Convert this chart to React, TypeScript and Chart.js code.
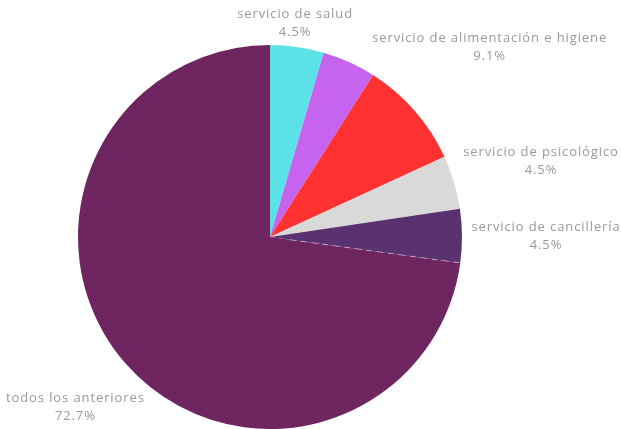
import React, { useEffect, useRef } from "react";
import { Chart, registerables } from "chart.js";

Chart.register(...registerables);

const categories = [
  "servicio de salud",
  "otros servicios",
  "servicio de alimentación e higiene",
  "servicio de psicológico",
  "servicio de cancillería",
  "todos los anteriores",
];
const percentages = [4.5, 4.5, 9.1, 4.5, 4.5, 72.7];
const sliceColors = ["#5ce1e6", "#c664ef", "#ff3131", "#d9d9d9", "#5a3270", "#6e2560"];
const hiddenLabels = [1];

// label centre offsets from the slice's outer mid point (layout only)
const labelOffsets: [number, number][] = [
  [-2, -24],
  [0, 0],
  [75, -63],
  [87, -21],
  [84, 1],
  [-50, 44],
];

const outsideLabels = {
  id: "outsideLabels",
  afterDatasetsDraw(chart: any) {
    const ctx = chart.ctx as CanvasRenderingContext2D;
    const meta = chart.getDatasetMeta(0);
    ctx.save();
    // dashed separator on the large slice's start edge
    const big: any = meta.data[meta.data.length - 1];
    if (big) {
      const p = big.getProps(["x", "y", "startAngle", "outerRadius"], true);
      ctx.strokeStyle = "rgba(255,255,255,0.45)";
      ctx.lineWidth = 1;
      ctx.setLineDash([6, 5]);
      ctx.beginPath();
      ctx.moveTo(p.x + Math.cos(p.startAngle) * 20, p.y + Math.sin(p.startAngle) * 20);
      ctx.lineTo(p.x + Math.cos(p.startAngle) * p.outerRadius, p.y + Math.sin(p.startAngle) * p.outerRadius);
      ctx.stroke();
      ctx.setLineDash([]);
    }
    ctx.font = '13px "Open Sans", sans-serif';
    (ctx as any).letterSpacing = "0.9px";
    ctx.fillStyle = "#999999";
    ctx.textAlign = "center";
    ctx.textBaseline = "middle";
    meta.data.forEach((arc: any, i: number) => {
      if (hiddenLabels.includes(i)) return;
      const p = arc.getProps(["x", "y", "startAngle", "endAngle", "outerRadius"], true);
      const mid = (p.startAngle + p.endAngle) / 2;
      const px = p.x + Math.cos(mid) * p.outerRadius;
      const py = p.y + Math.sin(mid) * p.outerRadius;
      const [ox, oy] = labelOffsets[i];
      const cx = px + ox;
      const cy = py + oy;
      ctx.fillText(categories[i], cx, cy - 9);
      ctx.fillText(percentages[i].toFixed(1) + "%", cx, cy + 9);
    });
    ctx.restore();
  },
};

export default function App() {
  const ref = useRef<HTMLCanvasElement>(null);
  useEffect(() => {
    if (!ref.current) return;
    const chart = new Chart(ref.current, {
      type: "pie",
      data: {
        labels: categories,
        datasets: [
          {
            data: percentages,
            backgroundColor: sliceColors,
            borderWidth: 0,
          },
        ],
      },
      options: {
        responsive: false,
        animation: false,
        layout: { padding: { left: 78, right: 159, top: 45, bottom: 0 } },
        plugins: {
          legend: { display: false },
          tooltip: { enabled: false },
        },
      },
      plugins: [outsideLabels],
    });
    return () => chart.destroy();
  }, []);
  return (
    <div style={{ position: "fixed", left: 0, top: 0, width: 621, height: 429, background: "#fff" }}>
      <canvas ref={ref} width={621} height={429} />
    </div>
  );
}
